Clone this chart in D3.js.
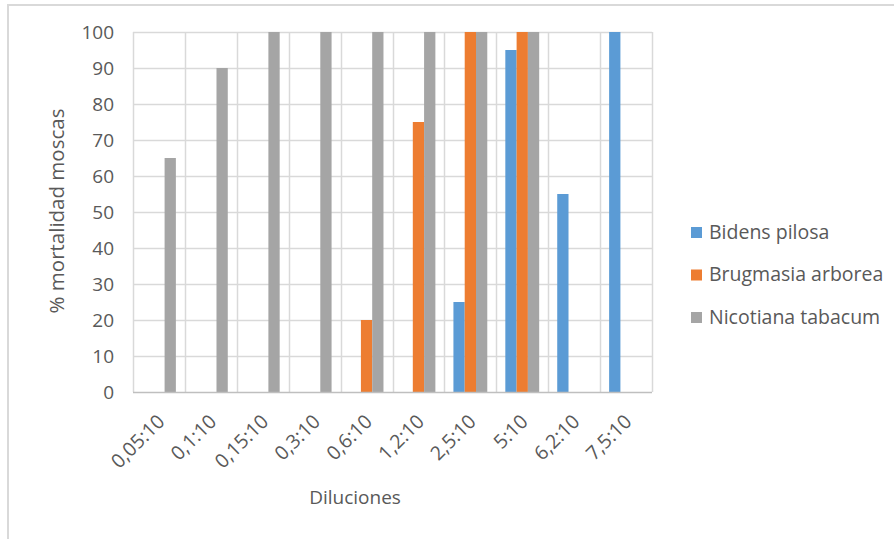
<!DOCTYPE html>
<html>
<head>
<meta charset="utf-8">
<script src="https://cdn.jsdelivr.net/npm/d3@7"></script>
<style>
  body { margin: 0; background: #fff; }
  text { font-family: "Open Sans", sans-serif; fill: #595959; }
</style>
</head>
<body>
<div class="mainContent"></div>
<script>
const w = 894;
const h = 539;

// data
const categories = ['0,05:10', '0,1:10', '0,15:10', '0,3:10', '0,6:10', '1,2:10', '2,5:10', '5:10', '6,2:10', '7,5:10'];
const seriesNames = ['Bidens pilosa', 'Brugmasia arborea', 'Nicotiana tabacum'];
const bidens = [0, 0, 0, 0, 0, 0, 25, 95, 55, 100];
const brugmasia = [0, 0, 0, 0, 20, 75, 100, 100, 0, 0];
const nicotiana = [65, 90, 100, 100, 100, 100, 100, 100, 0, 0];
const yTicks = [0, 10, 20, 30, 40, 50, 60, 70, 80, 90, 100];
const colors = ['#5B9BD5', '#ED7D31', '#A5A5A5'];

const allSeries = [bidens, brugmasia, nicotiana];

const plot = {left: 133, right: 652, top: 32, bottom: 392};

const svg = d3.select('.mainContent')
    .append('svg')
    .attr('width', w)
    .attr('height', h);

// outer frame
svg.append('rect')
    .attr('x', 8).attr('y', 5)
    .attr('width', w + 20).attr('height', h + 20)
    .attr('fill', 'none')
    .attr('stroke', '#D9D9D9')
    .attr('stroke-width', 2);

const xScale = d3.scaleBand()
    .domain(categories)
    .range([plot.left, plot.right])
    .paddingInner(0)
    .paddingOuter(0);

const inner = d3.scaleBand()
    .domain(d3.range(seriesNames.length))
    .range([0, xScale.bandwidth()])
    .paddingOuter(0.8);

const yScale = d3.scaleLinear()
    .domain([0, 100])
    .range([plot.bottom, plot.top]);

// horizontal gridlines
svg.append('g')
    .selectAll('line')
    .data(yTicks.filter(d => d > 0))
    .enter()
    .append('line')
    .attr('x1', plot.left).attr('x2', plot.right)
    .attr('y1', d => Math.round(yScale(d)) + 0.5)
    .attr('y2', d => Math.round(yScale(d)) + 0.5)
    .attr('stroke', '#D9D9D9')
    .attr('stroke-width', 1.5);

// vertical gridlines on category boundaries
const bounds = categories.map(c => xScale(c)).concat([plot.right]);
svg.append('g')
    .selectAll('line')
    .data(bounds)
    .enter()
    .append('line')
    .attr('x1', d => Math.round(d) + 0.5).attr('x2', d => Math.round(d) + 0.5)
    .attr('y1', plot.top).attr('y2', plot.bottom)
    .attr('stroke', '#D9D9D9')
    .attr('stroke-width', 1.5);

// bars
allSeries.forEach((values, s) => {
    svg.append('g')
        .selectAll('rect')
        .data(values.map((v, i) => ({cat: categories[i], value: v})))
        .enter()
        .filter(d => d.value > 0)
        .append('rect')
        .attr('x', d => xScale(d.cat) + inner(s))
        .attr('width', inner.bandwidth())
        .attr('y', d => yScale(d.value))
        .attr('height', d => yScale(0) - yScale(d.value))
        .attr('fill', colors[s]);
});

// x axis line
svg.append('line')
    .attr('x1', plot.left).attr('x2', plot.right)
    .attr('y1', plot.bottom + 0.5).attr('y2', plot.bottom + 0.5)
    .attr('stroke', '#BFBFBF')
    .attr('stroke-width', 1.5);

// y tick labels
svg.append('g')
    .selectAll('text')
    .data(yTicks)
    .enter()
    .append('text')
    .attr('x', 114)
    .attr('y', d => yScale(d))
    .attr('dy', '0.35em')
    .attr('text-anchor', 'end')
    .style('font-size', '19px')
    .text(d => d);

// x tick labels rotated
svg.append('g')
    .selectAll('text')
    .data(categories)
    .enter()
    .append('text')
    .attr('transform', d => `translate(${xScale(d) + xScale.bandwidth() / 2 + 2},${plot.bottom + 26}) rotate(-45)`)
    .attr('text-anchor', 'end')
    .attr('dy', '0.35em')
    .style('font-size', '19.5px')
    .text(d => d);

// axis titles
svg.append('text')
    .attr('x', 355)
    .attr('y', 504)
    .attr('text-anchor', 'middle')
    .style('font-size', '19px')
    .text('Diluciones');

svg.append('text')
    .attr('transform', `translate(64,${(plot.top + plot.bottom) / 2 - 1}) rotate(-90)`)
    .attr('text-anchor', 'middle')
    .style('font-size', '20.5px')
    .text('% mortalidad moscas');

// legend
const legend = svg.append('g')
    .selectAll('g')
    .data(seriesNames)
    .enter()
    .append('g')
    .attr('transform', (d, i) => `translate(691,${232 + i * 42.5})`);

legend.append('rect')
    .attr('x', 0).attr('y', -5)
    .attr('width', 11).attr('height', 11)
    .attr('fill', (d, i) => colors[i]);

legend.append('text')
    .attr('x', 18)
    .attr('dy', '0.35em')
    .style('font-size', '19.5px')
    .text(d => d);
</script>
</body>
</html>
